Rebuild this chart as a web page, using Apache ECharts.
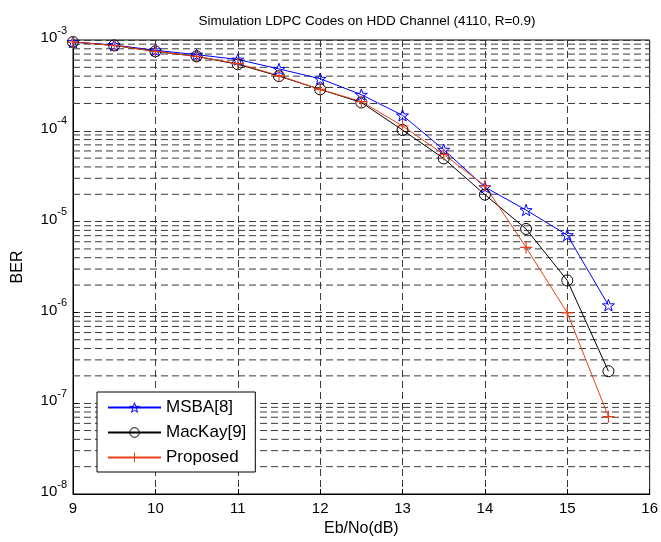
<!DOCTYPE html>
<html>
<head>
<meta charset="utf-8">
<script src="https://cdn.jsdelivr.net/npm/echarts@6/dist/echarts.min.js"></script>
<style>html,body{margin:0;padding:0;background:#fff}#c{width:661px;height:542px}</style>
</head>
<body>
<div id="c"></div>
<script>
var xValues = [9, 9.5, 10, 10.5, 11, 11.5, 12, 12.5, 13, 13.5, 14, 14.5, 15, 15.5];
var msba =   [9.5e-4, 8.8e-4, 7.7e-4, 6.9e-4, 6.1e-4, 4.8e-4, 3.75e-4, 2.5e-4, 1.48e-4, 6.2e-5, 2.4e-5, 1.34e-5, 7.1e-6, 1.2e-6];
var mackay = [9.5e-4, 8.7e-4, 7.5e-4, 6.6e-4, 5.4e-4, 4.0e-4, 2.86e-4, 2.05e-4, 1.02e-4, 4.96e-5, 1.98e-5, 8.3e-6, 2.25e-6, 2.25e-7];
var proposed=[9.5e-4, 8.7e-4, 7.5e-4, 6.6e-4, 5.5e-4, 4.05e-4, 2.86e-4, 2.1e-4, 1.13e-4, 5.5e-5, 2.48e-5, 5.2e-6, 9.9e-7, 7.1e-8];
var seriesNames = ['MSBA[8]', 'MacKay[9]', 'Proposed'];
var yExponents = [-8, -7, -6, -5, -4, -3];
var xTicks = [9, 10, 11, 12, 13, 14, 15, 16];
var xMin = 9, xMax = 16;

var minorVals = [];
yExponents.slice(0, 5).forEach(function (e) {
  for (var m = 2; m <= 9; m++) minorVals.push(m * Math.pow(10, e));
});

function pairs(ys) { return xValues.map(function (x, i) { return [x, ys[i]]; }); }

var starPath = 'path://M0,-10L2.35,-3.24L9.51,-3.09L3.8,1.24L5.88,8.09L0,4L-5.88,8.09L-3.8,1.24L-9.51,-3.09L-2.35,-3.24Z';
var plusPath = 'path://M0,5L10,5M5,0L5,10';
var dash = [7, 4];
var gridColor = '#3a3a3a';
var font = 'Liberation Sans, Arial, sans-serif';
var colors = ['#0000ff', '#000000', '#e8401a'];
var clear = 'rgba(255,255,255,0)';

var minorSeries = minorVals.map(function (v, i) {
  return {
    name: '_minor' + i, type: 'line', silent: true, showSymbol: false, z: 1,
    data: [[xMin, v], [xMax, v]],
    lineStyle: { color: gridColor, type: dash, width: 1 }
  };
});

var chart = echarts.init(document.getElementById('c'), null, { renderer: 'canvas' });
chart.setOption({
  animation: false,
  backgroundColor: '#fff',
  title: {
    text: 'Simulation LDPC Codes on HDD Channel (4110, R=0.9)',
    left: 362, top: 9, textAlign: 'center',
    textStyle: { fontFamily: font, fontSize: 13.5, fontWeight: 'normal', color: '#000' }
  },
  grid: { left: 73, top: 40, right: 11, bottom: 46, show: true, borderColor: '#000', borderWidth: 1, backgroundColor: 'transparent' },
  legend: {
    data: seriesNames.map(function (n, i) {
      return { name: n, itemStyle: { color: clear, borderColor: colors[i], borderWidth: 1 } };
    }),
    orient: 'vertical', left: 97, top: 392,
    backgroundColor: '#fff', borderColor: '#000', borderWidth: 1,
    padding: [7, 9, 6, 10],
    itemWidth: 53, itemHeight: 12, itemGap: 8,
    textStyle: { fontFamily: font, fontSize: 17, color: '#000' }
  },
  xAxis: {
    type: 'value', min: xMin, max: xMax, interval: 1,
    name: 'Eb/No(dB)', nameLocation: 'middle', nameGap: 27,
    nameTextStyle: { fontFamily: font, fontSize: 16, color: '#000' },
    axisLine: { show: true, lineStyle: { color: '#000' } },
    axisTick: { show: true, inside: true, length: 5, lineStyle: { color: '#000' } },
    axisLabel: { fontFamily: font, fontSize: 15, color: '#000', margin: 7,
      formatter: function (v) { return xTicks.indexOf(v) >= 0 ? String(v) : ''; } },
    splitLine: { show: true, lineStyle: { color: gridColor, type: dash, width: 1 } }
  },
  yAxis: {
    type: 'log', logBase: 10, min: 1e-8, max: 1e-3,
    name: 'BER', nameLocation: 'middle', nameGap: 47,
    nameTextStyle: { fontFamily: font, fontSize: 16, color: '#000' },
    axisLine: { show: true, lineStyle: { color: '#000' } },
    axisTick: { show: true, inside: true, length: 5, lineStyle: { color: '#000' } },
    axisLabel: {
      margin: 6, fontFamily: font, color: '#000',
      formatter: function (v) {
        var e = Math.round(Math.log10(v));
        if (yExponents.indexOf(e) < 0) return '';
        return '{b|10}{s|' + e + '}';
      },
      rich: {
        b: { fontFamily: font, fontSize: 15, color: '#000', padding: [0, 0, 4, 0] },
        s: { fontFamily: font, fontSize: 11, color: '#000', padding: [0, 0, 19, 0] }
      }
    },
    splitLine: { show: true, lineStyle: { color: gridColor, type: dash, width: 1 } }
  },
  series: minorSeries.concat([
    {
      name: seriesNames[0], type: 'line', data: pairs(msba), z: 3,
      symbol: starPath, symbolSize: 12, symbolKeepAspect: true,
      lineStyle: { color: colors[0], width: 1 },
      itemStyle: { color: clear, borderColor: colors[0], borderWidth: 1 }
    },
    {
      name: seriesNames[1], type: 'line', data: pairs(mackay), z: 3,
      symbol: 'circle', symbolSize: 11,
      lineStyle: { color: colors[1], width: 1 },
      itemStyle: { color: clear, borderColor: colors[1], borderWidth: 1 }
    },
    {
      name: seriesNames[2], type: 'line', data: pairs(proposed), z: 3,
      symbol: plusPath, symbolSize: 12,
      lineStyle: { color: colors[2], width: 1 },
      itemStyle: { color: clear, borderColor: colors[2], borderWidth: 1.2 }
    }
  ])
});
</script>
</body>
</html>
